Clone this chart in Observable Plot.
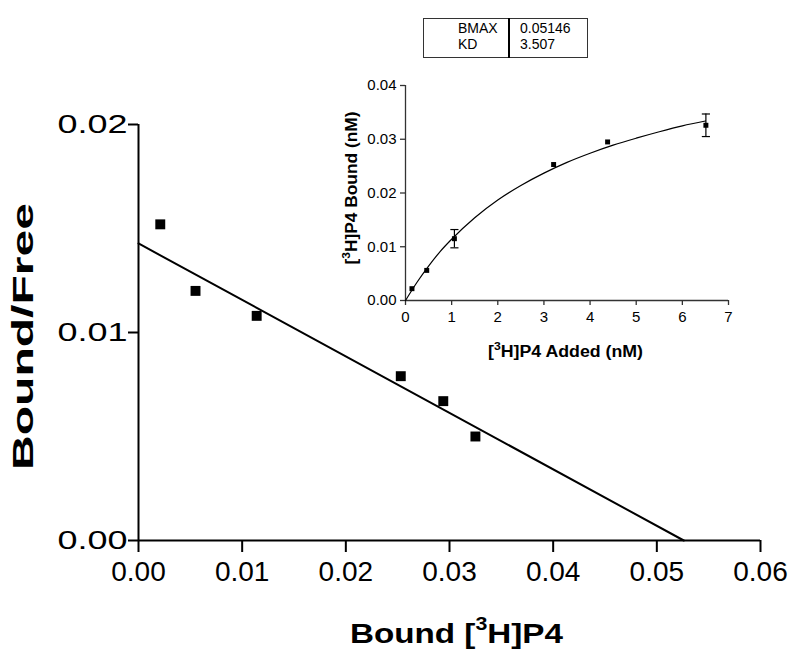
<!DOCTYPE html>
<html><head><meta charset="utf-8">
<script src="https://cdn.jsdelivr.net/npm/d3@7"></script>
<script src="https://cdn.jsdelivr.net/npm/@observablehq/plot@0.6"></script>
<style>
html,body{margin:0;padding:0;background:#fff;}
#wrap{position:relative;width:790px;height:651px;}
#wrap > svg{position:absolute;left:0;top:0;}
#wrap > svg.inset{left:335px;top:70px;}
</style></head><body><div id="wrap"></div>
<script>
// ---- Scatchard plot (main) ----
const boundMain = [0.0021, 0.0055, 0.0114, 0.0253, 0.0294, 0.0325];
const boundFree = [0.0152, 0.0120, 0.0108, 0.0079, 0.0067, 0.0050];
const fitLineX = [0, 0.0526];
const fitLineY = [0.01428, 0];
const mainXTicks = [0, 0.01, 0.02, 0.03, 0.04, 0.05, 0.06];
const mainYTicks = [0, 0.01, 0.02];
// ---- Saturation curve (inset) ----
const added = [0.14, 0.46, 1.06, 3.21, 4.38, 6.51];
const bound = [0.0022, 0.0056, 0.0115, 0.0253, 0.0295, 0.0326];
const boundErr = [0, 0, 0.0017, 0, 0, 0.0021];
const curveX = [0, 0.25, 0.5, 0.75, 1, 1.5, 2, 2.5, 3, 3.5, 4, 4.5, 5, 5.5, 6, 6.5];
const curveY = [0, 0.0034, 0.0064, 0.0091, 0.0114, 0.0154, 0.0187, 0.0214, 0.0237, 0.0257, 0.0274, 0.0289, 0.0302, 0.0314, 0.0325, 0.0334];
const insetXTicks = [0, 1, 2, 3, 4, 5, 6, 7];
const insetYTicks = [0, 0.01, 0.02, 0.03, 0.04];
// ---- Parameter table ----
const tableLabels = ["BMAX", "KD"];
const tableValues = ["0.05146", "3.507"];

const FONT = "'Liberation Sans', Arial, Helvetica, sans-serif";
const f2 = d3.format(".2f");

const mainPts = boundMain.map((x, i) => ({x, y: boundFree[i]}));
const fitPts = fitLineX.map((x, i) => ({x, y: fitLineY[i]}));

const main = Plot.plot({
  width: 790, height: 651,
  marginLeft: 138, marginRight: 30, marginTop: 124, marginBottom: 111,
  style: {fontFamily: FONT, background: "white", color: "black", overflow: "visible"},
  x: {domain: [0, 0.06], label: null},
  y: {domain: [0, 0.02], label: null},
  marks: [
    Plot.axisX(mainXTicks, {tickFormat: f2, tickSize: 12, tickPadding: 9, fontSize: 28, strokeWidth: 2, label: null}),
    Plot.axisY(mainYTicks, {tickFormat: f2, tickSize: 10, tickPadding: 1, fontSize: 25, strokeWidth: 2, label: null}),
    Plot.ruleY([0], {strokeWidth: 2, stroke: "black"}),
    Plot.ruleX([0], {strokeWidth: 2, stroke: "black"}),
    Plot.line(fitPts, {x: "x", y: "y", stroke: "black", strokeWidth: 2}),
    Plot.dot(mainPts, {x: "x", y: "y", symbol: "square", r: 5.6, fill: "black"})
  ]
});

const insetPts = added.map((x, i) => ({x, y: bound[i], e: boundErr[i]}));
const errPts = insetPts.filter(d => d.e > 0);
const curvePts = curveX.map((x, i) => ({x, y: curveY[i]}));
const capSymbol = {draw(ctx, size) { const w = Math.sqrt(size); ctx.moveTo(-w, 0); ctx.lineTo(w, 0); }};

const inset = Plot.plot({
  width: 410, height: 295,
  marginLeft: 70, marginRight: 17, marginTop: 15, marginBottom: 65,
  style: {fontFamily: FONT, background: "none", color: "black", overflow: "visible"},
  x: {domain: [0, 7], label: null},
  y: {domain: [0, 0.04], label: null},
  marks: [
    Plot.axisX(insetXTicks, {tickSize: 5, tickPadding: 6, fontSize: 15, stroke: "#333", strokeWidth: 1.3, label: null}),
    Plot.axisY(insetYTicks, {tickFormat: f2, tickSize: 5, tickPadding: 4, fontSize: 15, stroke: "#333", strokeWidth: 1.3, label: null}),
    Plot.ruleY([0], {stroke: "#333", strokeWidth: 1.3}),
    Plot.ruleX([0], {stroke: "#333", strokeWidth: 1.3}),
    Plot.line(curvePts, {x: "x", y: "y", stroke: "black", strokeWidth: 1.2, curve: "monotone-x"}),
    Plot.ruleX(errPts, {x: "x", y1: d => d.y - d.e, y2: d => d.y + d.e, stroke: "black", strokeWidth: 1.2}),
    Plot.dot(errPts, {x: "x", y: d => d.y - d.e, symbol: capSymbol, r: 2.3, stroke: "black", strokeWidth: 1.2}),
    Plot.dot(errPts, {x: "x", y: d => d.y + d.e, symbol: capSymbol, r: 2.3, stroke: "black", strokeWidth: 1.2}),
    Plot.dot(insetPts, {x: "x", y: "y", symbol: "square", r: 2.8, fill: "black"})
  ]
});
inset.classList.add("inset");

// stretch main y tick labels to match reference
d3.select(main).selectAll('g[aria-label="y-axis tick label"] text')
  .attr("font-size", 25).attr("textLength", 70).attr("lengthAdjust", "spacingAndGlyphs");

function title(svg, x, y, rot, size, supSize, supDy, len, pre, sup, post) {
  const t = d3.select(svg).append("text")
    .attr("transform", `translate(${x},${y}) rotate(${rot})`)
    .attr("text-anchor", "middle").attr("font-family", FONT).attr("font-weight", "bold")
    .attr("font-size", size).attr("fill", "black");
  if (len) t.attr("textLength", len).attr("lengthAdjust", "spacingAndGlyphs");
  t.append("tspan").text(pre);
  if (sup) {
    t.append("tspan").attr("font-size", supSize).attr("dy", -supDy).text(sup);
    t.append("tspan").attr("dy", supDy).text(post);
  }
}
title(main, 456.5, 643, 0, 28, 18, 13, 213, "Bound [", "3", "H]P4");
title(main, 33, 336.5, -90, 29, 0, 0, 267, "Bound/Free", null, null);
title(inset, 230.5, 287, 0, 16, 11, 7, 155, "[", "3", "H]P4 Added (nM)");
title(inset, 22, 118, -90, 16, 11, 7, 153, "[", "3", "H]P4 Bound (nM)");

// parameter table
const tg = d3.select(main).append("g").attr("font-family", FONT).attr("font-size", 14)
  .attr("fill", "black").attr("text-anchor", "start");
tg.append("rect").attr("x", 423.5).attr("y", 18.5).attr("width", 164).attr("height", 39)
  .attr("fill", "white").attr("stroke", "#333").attr("stroke-width", 1);
tg.append("line").attr("x1", 509).attr("x2", 509).attr("y1", 18).attr("y2", 58)
  .attr("stroke", "black").attr("stroke-width", 2);
tableLabels.forEach((l, i) => {
  tg.append("text").attr("x", 458).attr("y", 32.5 + 16 * i).text(l);
  tg.append("text").attr("x", 520).attr("y", 32.5 + 16 * i).text(tableValues[i]);
});

const wrap = document.getElementById("wrap");
wrap.appendChild(main);
wrap.appendChild(inset);
</script></body></html>
